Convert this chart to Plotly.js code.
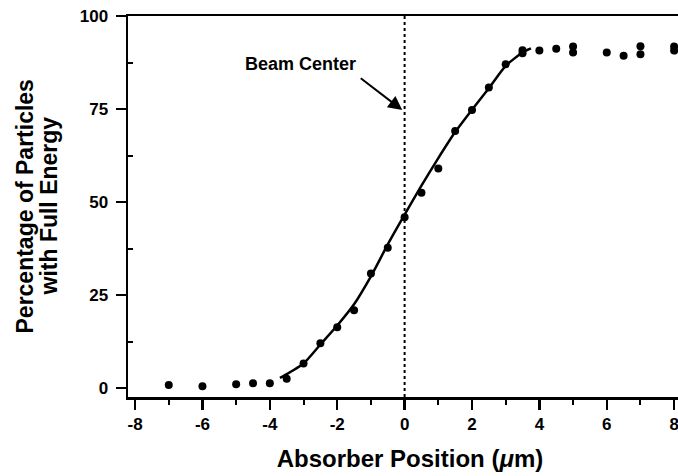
<!DOCTYPE html>
<html>
<head>
<meta charset="utf-8">
<script src="https://cdn.plot.ly/plotly-3.0.1.min.js"></script>
<style>
html, body { margin: 0; padding: 0; overflow: hidden; background: #fff; }
#chart { width: 692px; height: 476px; }
</style>
</head>
<body>
<div id="chart"></div>
<script>
// Measured data points
const pointX = [-7, -6, -5, -4.5, -4, -3.5, -3, -2.5, -2, -1.5, -1, -0.5, 0, 0.5, 1, 1.5, 2, 2.5, 3, 3.5, 3.5, 4, 4.5, 5, 5, 6, 6.5, 7, 7, 8, 8];
const pointY = [0.8, 0.5, 1.0, 1.3, 1.3, 2.5, 6.6, 12.0, 16.3, 20.9, 30.8, 37.7, 45.9, 52.5, 59.0, 69.1, 74.7, 80.8, 87.0, 90.0, 90.8, 90.7, 91.2, 91.8, 90.2, 90.2, 89.3, 91.9, 89.7, 91.8, 90.7];

// Fitted curve
const fitX = [-3.7, -3.6, -3.0, -2.5, -2.0, -1.5, -1.0, -0.5, 0, 0.5, 1.0, 1.5, 2.0, 2.5, 3.0, 3.5, 3.75];
const fitY = [2.7, 3.2, 6.6, 11.7, 16.8, 22.5, 30.0, 38.6, 46.6, 54.4, 61.8, 68.8, 74.8, 80.6, 86.6, 90.2, 91.3];

const xTicks = [-8, -6, -4, -2, 0, 2, 4, 6, 8];
const yTicks = [0, 25, 50, 75, 100];

const FONT = "Liberation Sans, Arial, Helvetica, sans-serif";

const traces = [
  {
    x: fitX, y: fitY, type: 'scatter', mode: 'lines',
    line: { color: '#000', width: 2.5, shape: 'spline', smoothing: 0.6 },
    hoverinfo: 'skip'
  },
  {
    x: pointX, y: pointY, type: 'scatter', mode: 'markers',
    marker: { color: '#000', size: 8 }
  }
];

const layout = {
  width: 692, height: 476,
  margin: { l: 128, r: 0, t: 16, b: 79 },
  paper_bgcolor: '#fff', plot_bgcolor: '#fff',
  showlegend: false,
  font: { family: FONT, color: '#000' },
  xaxis: {
    range: [-8.21, 8.53],
    tickmode: 'array', tickvals: xTicks, ticktext: xTicks.map(String),
    ticks: 'outside', ticklen: 10, tickwidth: 2.5, tickcolor: '#000',
    showline: true, linewidth: 2.5, linecolor: '#000', mirror: true,
    showgrid: false, zeroline: false,
    tickfont: { family: FONT, size: 17, color: '#000', weight: 'bold' },
    minor: { tickmode: 'array', tickvals: [-7, -5, -3, -1, 1, 3, 5, 7], ticks: 'outside', ticklen: 5, tickwidth: 2, tickcolor: '#000', showgrid: false },
    title: { text: '<b>Absorber Position (<i>μ</i>m)</b>', font: { family: FONT, size: 24, color: '#000' }, standoff: 18 }
  },
  yaxis: {
    range: [-2.42, 100],
    tickmode: 'array', tickvals: yTicks, ticktext: yTicks.map(String),
    ticks: 'outside', ticklen: 10, tickwidth: 2.5, tickcolor: '#000',
    showline: true, linewidth: 2.5, linecolor: '#000',
    showgrid: false, zeroline: false,
    ticklabelstandoff: 4,
    tickfont: { family: FONT, size: 17, color: '#000', weight: 'bold' },
    minor: { tickmode: 'array', tickvals: [12.5, 37.5, 62.5, 87.5], ticks: 'inside', ticklen: 5, tickwidth: 2, tickcolor: '#000', showgrid: false }
  },
  shapes: [
    { type: 'line', xref: 'x', yref: 'y', x0: 0, x1: 0, y0: -2.42, y1: 100,
      line: { color: '#000', width: 2, dash: 'dot' } }
  ],
  annotations: [
    { xref: 'paper', yref: 'paper', x: (24 - 128) / 564, y: 0.5, xanchor: 'center', yanchor: 'middle',
      text: '<b>Percentage of Particles</b>', textangle: -90, showarrow: false,
      font: { family: FONT, size: 23, color: '#000' } },
    { xref: 'paper', yref: 'paper', x: (48 - 128) / 564, y: 0.5, xanchor: 'center', yanchor: 'middle',
      text: '<b>with Full Energy</b>', textangle: -90, showarrow: false,
      font: { family: FONT, size: 23, color: '#000' } },
    { xref: 'x', yref: 'y', x: -3.1, y: 87.0, xanchor: 'center', yanchor: 'middle',
      text: '<b>Beam Center</b>', showarrow: false,
      font: { family: FONT, size: 18, color: '#000' } },
    { xref: 'x', yref: 'y', x: -0.07, y: 74.7, ax: -43, ay: -33, text: '',
      showarrow: true, arrowhead: 2, arrowsize: 1.4, arrowwidth: 2, arrowcolor: '#000' }
  ]
};

Plotly.newPlot('chart', traces, layout, { displayModeBar: false, staticPlot: true });
</script>
</body>
</html>
